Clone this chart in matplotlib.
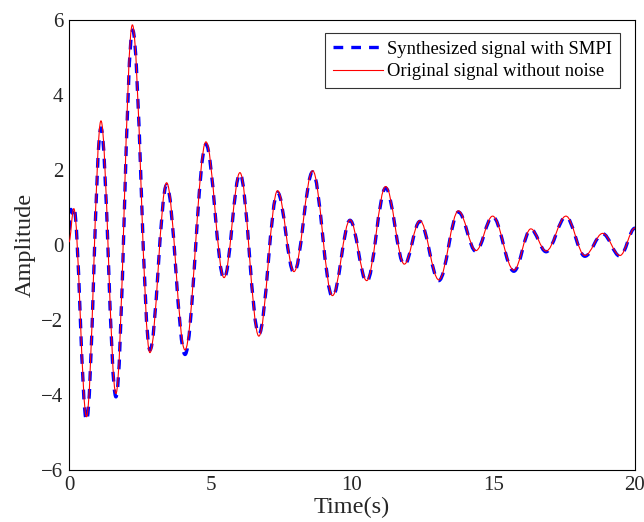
import matplotlib
matplotlib.use("Agg")
import matplotlib.pyplot as plt
from matplotlib.path import Path
from matplotlib.patches import PathPatch
from matplotlib.lines import Line2D

# Extrema (time in s, amplitude)
orig_t = [0.0, 0.17, 0.62, 1.13, 1.66, 2.24, 2.86, 3.45, 4.10, 4.84, 5.48, 6.04,
          6.71, 7.37, 7.95, 8.61, 9.31, 9.93, 10.52, 11.19, 11.85, 12.40, 13.07,
          13.76, 14.38, 14.97, 15.72, 16.32, 16.86, 17.56, 18.23, 18.86, 19.47, 20.0]
orig_y = [0.08, 0.97, -4.58, 3.31, -3.96, 5.87, -2.87, 1.66, -2.80, 2.75, -0.87, 1.93,
          -2.43, 1.45, -0.71, 1.98, -1.35, 0.67, -0.95, 1.56, -0.51, 0.65, -0.93,
          0.91, -0.15, 0.77, -0.67, 0.43, -0.16, 0.77, -0.28, 0.31, -0.28, 0.45]

synth_t = [0.0, 0.07, 0.11, 0.17, 0.62, 1.13, 1.66, 2.25, 2.86, 3.45, 4.10, 4.84, 5.48,
           6.04, 6.71, 7.37, 7.95, 8.61, 9.31, 9.93, 10.52, 11.19, 11.85, 12.40, 13.07,
           13.76, 14.38, 14.97, 15.72, 16.32, 16.86, 17.56, 18.23, 18.86, 19.47, 20.0]
synth_y = [0.40, 0.95, 0.85, 1.00, -4.68, 3.12, -4.05, 5.73, -2.80, 1.60, -2.92, 2.68,
           -0.90, 1.90, -2.38, 1.40, -0.74, 1.95, -1.38, 0.66, -0.98, 1.52, -0.53,
           0.63, -0.95, 0.88, -0.17, 0.76, -0.70, 0.42, -0.18, 0.75, -0.30, 0.30,
           -0.30, 0.45]

x_ticks = [0, 5, 10, 15, 20]
y_ticks = [-6, -4, -2, 0, 2, 4, 6]


def smooth_path(ts, ys, k=0.3634):
    verts = [(ts[0], ys[0])]
    codes = [Path.MOVETO]
    for i in range(len(ts) - 1):
        dt = ts[i + 1] - ts[i]
        verts += [(ts[i] + k * dt, ys[i]), (ts[i + 1] - k * dt, ys[i + 1]),
                  (ts[i + 1], ys[i + 1])]
        codes += [Path.CURVE4] * 3
    return Path(verts, codes)


plt.rcParams['font.family'] = ['Liberation Serif', 'DejaVu Serif']

fig = plt.figure(figsize=(6.44, 5.22), dpi=100)
ax = fig.add_axes([0.1071, 0.0996, 0.8789, 0.8621])

blue_lw = 2.4
blue_ls = (0, (7.0 / blue_lw, 5.8 / blue_lw))
ax.add_patch(PathPatch(smooth_path(synth_t, synth_y), fill=False,
                       edgecolor='#0000FF', lw=blue_lw, linestyle=blue_ls,
                       capstyle='butt', joinstyle='round', zorder=2))
ax.add_patch(PathPatch(smooth_path(orig_t, orig_y), fill=False,
                       edgecolor='#FF0000', lw=0.8, zorder=3))

ax.set_xlim(0, 20)
ax.set_ylim(-6, 6)
ax.set_xticks(x_ticks)
ax.set_yticks(y_ticks)
ax.set_yticklabels(['\u22126', '\u22124', '\u22122', '0', '2', '4', '6'])
ax.tick_params(direction='in', length=0, labelsize=15, pad=4, colors='#262626')
for s in ax.spines.values():
    s.set_linewidth(0.8)
    s.set_color('black')

ax.set_xlabel('Time(s)', fontsize=17.5, color='#262626', labelpad=2)
ax.set_ylabel('Amplitude', fontsize=17.5, color='#262626', labelpad=4)

handles = [Line2D([], [], color='#0000FF', lw=blue_lw, linestyle=blue_ls),
           Line2D([], [], color='#FF0000', lw=0.8)]
leg = ax.legend(handles, ['Synthesized signal with SMPI', 'Original signal without noise'],
                loc='upper right', bbox_to_anchor=(0.9735, 0.971), borderaxespad=0,
                fontsize=13.4, frameon=True, fancybox=False, edgecolor='black',
                handlelength=2.7, handletextpad=0.2, borderpad=0.42, labelspacing=0.3)
leg.get_frame().set_linewidth(0.8)

fig.savefig('out.png', dpi=100)
